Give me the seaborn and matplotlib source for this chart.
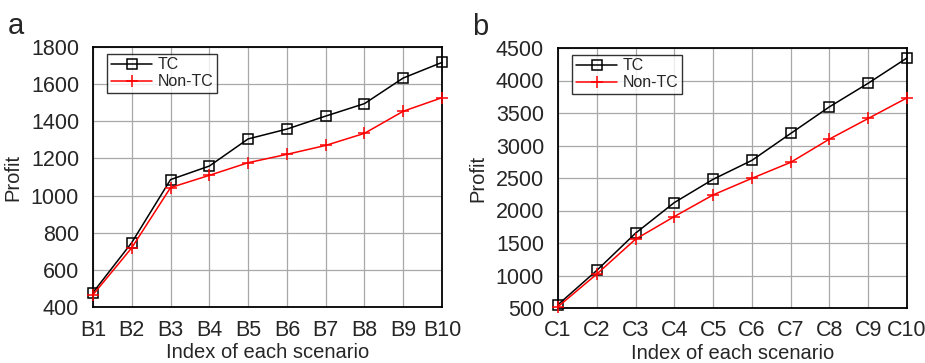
"""
TC vs Non-TC profit across scenarios
"""

import matplotlib
matplotlib.use("Agg")
import matplotlib.pyplot as plt
import pandas as pd
import seaborn as sns

b_labels = ["B1", "B2", "B3", "B4", "B5", "B6", "B7", "B8", "B9", "B10"]
b_tc = [478, 747, 1086, 1159, 1305, 1358, 1428, 1495, 1633, 1717]
b_nontc = [466, 719, 1043, 1109, 1177, 1222, 1270, 1335, 1454, 1527]

c_labels = ["C1", "C2", "C3", "C4", "C5", "C6", "C7", "C8", "C9", "C10"]
c_tc = [551, 1078, 1651, 2122, 2480, 2771, 3185, 3595, 3958, 4347]
c_nontc = [520, 1022, 1559, 1907, 2240, 2495, 2741, 3099, 3416, 3733]

sns.set_style("white")
plt.rcParams["font.family"] = ["Liberation Sans", "DejaVu Sans"]

fig = plt.figure(figsize=(9.25, 3.63), dpi=100)
W, H = 925, 363
ax_a = fig.add_axes([93 / W, 1 - 307 / H, 349 / W, 260 / H])
ax_b = fig.add_axes([558 / W, 1 - 308 / H, 349 / W, 260 / H])


def draw(ax, labels, tc, nontc, yticks, letter):
    df = pd.DataFrame({"x": range(len(labels)), "TC": tc, "Non-TC": nontc})
    sns.lineplot(data=df, x="x", y="TC", ax=ax, color="black", marker="s",
                 markersize=6.5, markerfacecolor="none", markeredgecolor="black",
                 markeredgewidth=1.1, linewidth=1.1, label="TC", zorder=3,
                 clip_on=False)
    sns.lineplot(data=df, x="x", y="Non-TC", ax=ax, color="red", marker="+",
                 markersize=9, markeredgecolor="red", markeredgewidth=1.1,
                 linewidth=1.1, label="Non-TC", zorder=3, clip_on=False)
    ax.set_xlim(0, len(labels) - 1)
    ax.set_ylim(yticks[0], yticks[-1])
    ax.set_xticks(range(len(labels)))
    ax.set_xticklabels(labels)
    ax.set_yticks(yticks)
    ax.grid(True, color="#a8a8a8", linewidth=0.9)
    ax.tick_params(labelsize=15.5, length=0)
    ax.tick_params(axis="x", pad=9)
    ax.tick_params(axis="y", pad=10)
    for s in ax.spines.values():
        s.set_color("black")
        s.set_linewidth(1.3)
    ax.set_xlabel("Index of each scenario", fontsize=14.5, labelpad=2)
    ax.set_ylabel("Profit", fontsize=14.5, labelpad=6)
    leg = ax.legend(loc="upper left", fontsize=11.5, frameon=True, fancybox=False,
                    edgecolor="black", handlelength=2.6, borderpad=0.25,
                    labelspacing=0.1, handletextpad=0.3, borderaxespad=0,
                    bbox_to_anchor=(0.04, 0.975))
    leg.get_frame().set_linewidth(1.0)
    ax.text(-0.245, 1.08, letter, transform=ax.transAxes, fontsize=21,
            va="center", ha="left")


draw(ax_a, b_labels, b_tc, b_nontc, list(range(400, 1801, 200)), "a")
draw(ax_b, c_labels, c_tc, c_nontc, list(range(500, 4501, 500)), "b")

fig.savefig("out.png", dpi=100)
plt.close(fig)
